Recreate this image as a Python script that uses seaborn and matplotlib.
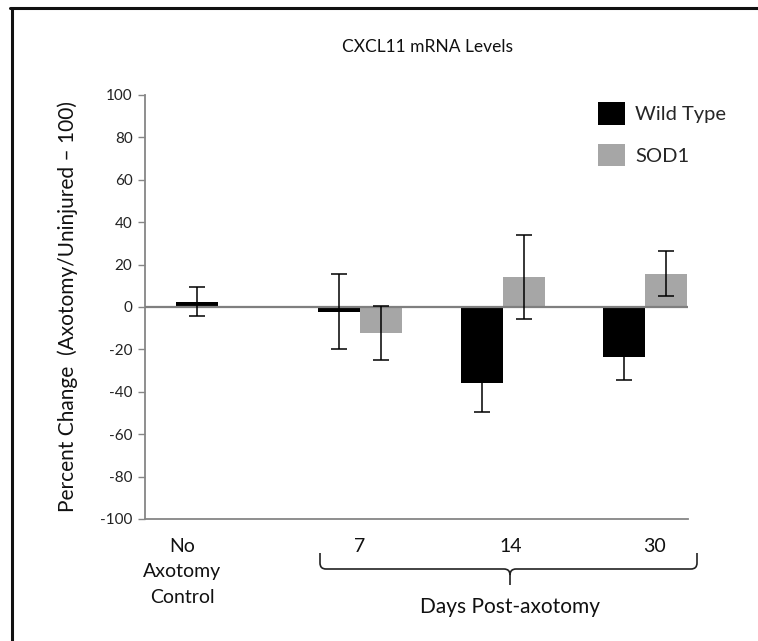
import matplotlib
matplotlib.use("Agg")
import matplotlib.pyplot as plt
import seaborn as sns
import pandas as pd
from matplotlib.path import Path
from matplotlib.patches import PathPatch
from matplotlib.lines import Line2D

# ---------------- data ----------------
groups = ["No Axotomy Control", "7", "14", "30"]
tick_labels = ["No\nAxotomy\nControl", "7", "14", "30"]
genotypes = ["Wild Type", "SOD1"]
wt_values = [2.5, -2.2, -35.8, -23.4]
wt_errors = [6.7, 17.7, 13.7, 11.0]
sod1_values = [0.4, -12.1, 14.1, 15.8]
sod1_errors = [0.0, 12.7, 19.8, 10.5]
yticks = list(range(-100, 101, 20))
title = "CXCL11 mRNA Levels"
ylabel = "Percent Change  (Axotomy/Uninjured \u2013 100)"
xlabel = "Days Post-axotomy"

sns.set_theme(style="white")
plt.rcParams["font.family"] = ["Lato", "DejaVu Sans"]

W, H = 758, 641
def fx(x):
    return x / W
def fy(y):
    return 1 - y / H

fig = plt.figure(figsize=(W / 100, H / 100), dpi=100)
fig.patch.set_facecolor("white")
ax = fig.add_axes([fx(145), fy(519), (688 - 145) / W, (519 - 95) / H])

df = pd.DataFrame({
    "group": groups * 2,
    "genotype": [genotypes[0]] * len(groups) + [genotypes[1]] * len(groups),
    "value": wt_values + sod1_values,
})

sns.barplot(data=df, x="group", y="value", hue="genotype", order=groups,
            hue_order=genotypes, palette=["#000000", "#a6a6a6"], width=0.59,
            errorbar=None, saturation=1, linewidth=0, ax=ax, zorder=2)

# error bars on bar positions from seaborn
for container, errs in zip(ax.containers, [wt_errors, sod1_errors]):
    for bar, e in zip(container, errs):
        if e <= 0:
            continue
        x = bar.get_x() + bar.get_width() / 2
        y = bar.get_y() + bar.get_height()
        ax.errorbar(x, y, yerr=e, color="black", capsize=5.5, elinewidth=1.1,
                    capthick=1.1, zorder=4)

ax.axhline(0, color="#7f7f7f", lw=1.6, zorder=3)

ax.set_xlim(-0.513, 3.303)
ax.set_ylim(-100, 100)
ax.set_yticks(yticks)
ax.set_yticklabels([str(t) for t in yticks])
ax.tick_params(axis="y", left=True, length=5, width=1, color="#868686",
               labelsize=11, pad=4, labelcolor="#222222")
ax.tick_params(axis="x", bottom=False, labelbottom=False)
ax.set_xlabel("")
for s in ["top", "right"]:
    ax.spines[s].set_visible(False)
for s in ["left", "bottom"]:
    ax.spines[s].set_color("#868686")
    ax.spines[s].set_linewidth(1.3)

ax.set_ylabel(ylabel, fontsize=15, va="center", color="#111111")
ax.yaxis.set_label_coords((68 - 145) / (688 - 145), 0.5)

sns.move_legend(ax, loc="upper left", bbox_to_anchor=(fx(598), fy(102)),
                bbox_transform=fig.transFigure, frameon=False, title=None,
                fontsize=14.5, handlelength=1.35, handleheight=1.35,
                handletextpad=0.5, labelspacing=0.95, borderaxespad=0,
                borderpad=0)

# title
fig.text(fx(428), fy(47), title, ha="center", va="center", fontsize=12.5,
         color="#111111")

# category labels
label_px = [182, 360, 511, 654]
for lab, xp in zip(tick_labels, label_px):
    fig.text(fx(xp), fy(538), lab, ha="center", va="top", fontsize=14,
             linespacing=1.6, color="#111111")

fig.text(fx(510), fy(607), xlabel, ha="center", va="center", fontsize=15,
         color="#111111")

# brace
L, R, C = 320, 697, 510
yt, yh, yd, r = 553, 569, 585, 6
verts = [
    (L, yt), (L, yh - r), (L, yh), (L + r, yh), (C - r, yh), (C, yh), (C, yh + r), (C, yd),
    (C, yh + r), (C, yh), (C + r, yh), (R - r, yh), (R, yh), (R, yh - r), (R, yt),
]
codes = [
    Path.MOVETO, Path.LINETO, Path.CURVE3, Path.CURVE3, Path.LINETO, Path.CURVE3, Path.CURVE3, Path.LINETO,
    Path.MOVETO, Path.CURVE3, Path.CURVE3, Path.LINETO, Path.CURVE3, Path.CURVE3, Path.LINETO,
]
path = Path([(fx(x), fy(y)) for x, y in verts], codes)
fig.add_artist(PathPatch(path, transform=fig.transFigure, fill=False,
                         lw=1.2, edgecolor="#222222"))

# outer frame
fig.add_artist(Line2D([fx(10), fx(W)], [fy(7.5), fy(7.5)], transform=fig.transFigure,
                      color="#111111", lw=2.2))
fig.add_artist(Line2D([fx(12), fx(12)], [fy(7.5), fy(H)], transform=fig.transFigure,
                      color="#111111", lw=2.2))

fig.savefig("out.png", dpi=100)
